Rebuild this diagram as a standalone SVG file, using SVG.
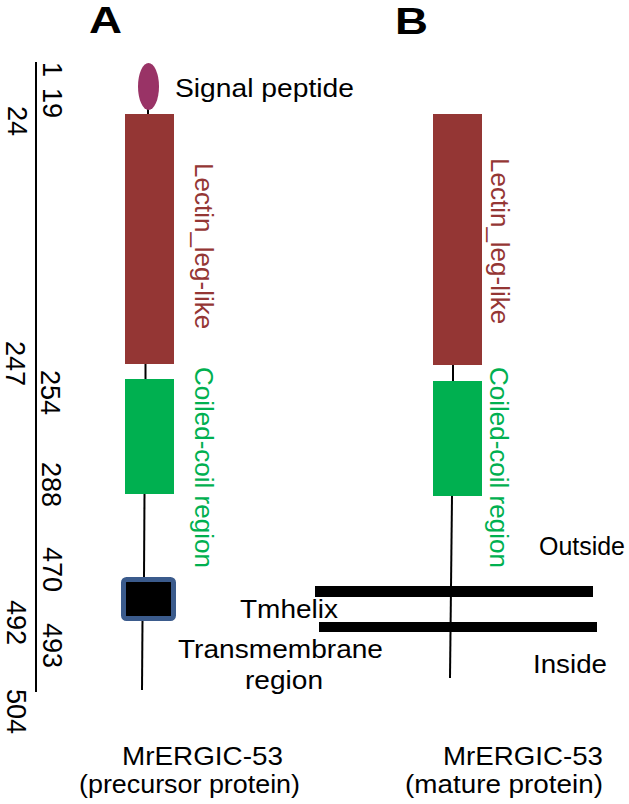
<svg xmlns="http://www.w3.org/2000/svg" width="629" height="804" viewBox="0 0 629 804">
<style>
text{font-family:"Liberation Sans",Arial,sans-serif;fill:#000}
.t{font-size:26px}
.n{font-size:27px}
.h{font-size:36px;font-weight:bold}
.red{fill:#943634}
.grn{fill:#00b050}
.lec{fill:#943634}
.cc{fill:#00b050}
.stem{stroke:#000;stroke-width:2;fill:none}
.mem{fill:#000}
</style>
<rect width="629" height="804" fill="#fff"/>
<text class="h" x="89" y="33" textLength="33" lengthAdjust="spacingAndGlyphs">A</text>
<text class="h" x="395" y="34" textLength="33" lengthAdjust="spacingAndGlyphs">B</text>

<g id="scale">
<line x1="36" y1="62" x2="36" y2="692" stroke="#000" stroke-width="2"/>
<text class="n" transform="translate(43,62) rotate(90)">1</text>
<text class="n" transform="translate(43,88) rotate(90)">19</text>
<text class="n" transform="translate(8,106) rotate(90)">24</text>
<text class="n" transform="translate(6,341) rotate(90)">247</text>
<text class="n" transform="translate(41,370) rotate(90)">254</text>
<text class="n" transform="translate(42,462) rotate(90)">288</text>
<text class="n" transform="translate(43,547) rotate(90)">470</text>
<text class="n" transform="translate(7,600) rotate(90)">492</text>
<text class="n" transform="translate(43,623) rotate(90)">493</text>
<text class="n" transform="translate(7,689) rotate(90)">504</text>
</g>

<g id="connectors">
<line class="stem" x1="148" y1="108" x2="148" y2="114"/>
<line class="stem" x1="145.5" y1="364" x2="145.5" y2="379"/>
<line class="stem" x1="144.5" y1="494" x2="144" y2="578"/>
<line class="stem" x1="142.5" y1="620" x2="142" y2="690"/>
<line class="stem" x1="453" y1="365" x2="453" y2="381"/>
<line class="stem" x1="452" y1="496" x2="450" y2="678"/>
</g>

<g id="signal-peptide">
<ellipse cx="148.5" cy="86.5" rx="10.5" ry="23.5" fill="#993366"/>
<text class="t" x="175" y="97" textLength="179" lengthAdjust="spacingAndGlyphs">Signal peptide</text>
</g>

<g id="lectin-A">
<rect class="lec" x="125" y="114" width="49" height="250"/>
<text class="t red" transform="translate(195,163) rotate(90)">Lectin_leg-like</text>
</g>

<g id="coiled-A">
<rect class="cc" x="125" y="379" width="49" height="115"/>
<text class="t grn" transform="translate(195,367) rotate(90)">Coiled-coil region</text>
</g>

<g id="tmhelix-A">
<rect x="123.5" y="579.5" width="50" height="39" rx="3" fill="#000" stroke="#3b5b8c" stroke-width="5"/>
<text class="t" x="240" y="618" textLength="98" lengthAdjust="spacingAndGlyphs">Tmhelix</text>
<text class="t" x="178" y="658" textLength="205" lengthAdjust="spacingAndGlyphs">Transmembrane</text>
<text class="t" x="245" y="689" textLength="78" lengthAdjust="spacingAndGlyphs">region</text>
</g>

<g id="lectin-B">
<rect class="lec" x="433" y="114" width="49" height="251"/>
<text class="t red" transform="translate(491,158) rotate(90)">Lectin_leg-like</text>
</g>

<g id="coiled-B">
<rect class="cc" x="433" y="381" width="49" height="115"/>
<text class="t grn" transform="translate(490,367) rotate(90)">Coiled-coil region</text>
</g>

<g id="membrane">
<rect class="mem" x="315" y="586" width="278" height="11"/>
<rect class="mem" x="319" y="622" width="278" height="10"/>
<text class="t" x="539" y="555" textLength="86" lengthAdjust="spacingAndGlyphs">Outside</text>
<text class="t" x="533" y="673" textLength="74" lengthAdjust="spacingAndGlyphs">Inside</text>
</g>

<g id="label-A">
<text class="t" x="122" y="765" textLength="161" lengthAdjust="spacingAndGlyphs">MrERGIC-53</text>
<text class="t" x="79" y="793" textLength="221" lengthAdjust="spacingAndGlyphs">(precursor protein)</text>
</g>

<g id="label-B">
<text class="t" x="443" y="765" textLength="160" lengthAdjust="spacingAndGlyphs">MrERGIC-53</text>
<text class="t" x="405" y="793" textLength="198" lengthAdjust="spacingAndGlyphs">(mature protein)</text>
</g>
</svg>
